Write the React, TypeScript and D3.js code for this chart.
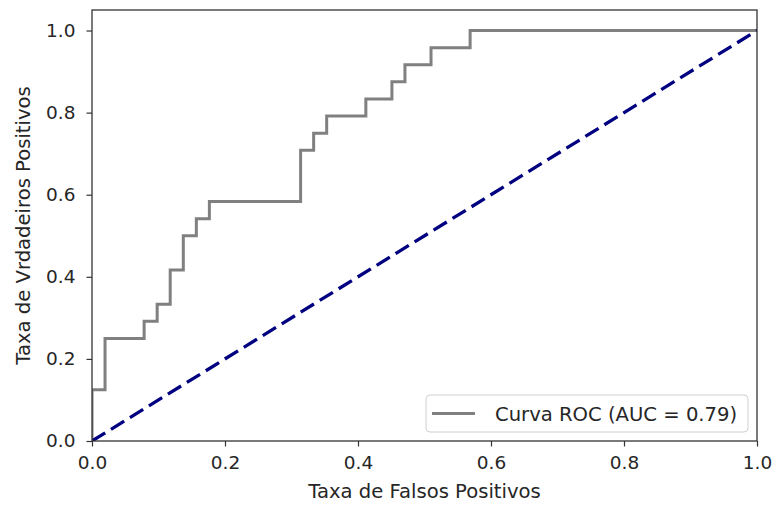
import { useEffect, useRef } from "react";
import * as d3 from "d3";

// ROC curve corner points (fpr, tpr)
const fpr = [0, 0, 0.0196, 0.0784, 0.098, 0.1176, 0.1373, 0.1569, 0.1765, 0.3137, 0.3333, 0.3529, 0.4118, 0.451, 0.4706, 0.5098, 0.5686, 1];
const tpr = [0, 0.125, 0.25, 0.2917, 0.3333, 0.4167, 0.5, 0.5417, 0.5833, 0.7083, 0.75, 0.7917, 0.8333, 0.875, 0.9167, 0.9583, 1, 1];
const diagonal = [0, 1];
const ticks = [0, 0.2, 0.4, 0.6, 0.8, 1.0];
const legendLabel = "Curva ROC (AUC = 0.79)";
const xLabel = "Taxa de Falsos Positivos";
const yLabel = "Taxa de Vrdadeiros Positivos";

const width = 773;
const height = 506;
const marginLeft = 92;
const marginRight = 16;
const marginTop = 10;
const marginBottom = 65;
const font = "DejaVu Sans, sans-serif";
const fontSize = "19.6px";
const tickFontSize = "18.5px";
const textColor = "#262626";

export default function App() {
  const xAxis = useRef<SVGGElement>(null);
  const yAxis = useRef<SVGGElement>(null);

  const xScale = d3.scaleLinear([0, 1], [marginLeft, width - marginRight]);
  const yScale = d3.scaleLinear([0, 1.05], [height - marginBottom, marginTop]);

  const roc = d3
    .line<number>()
    .x((d) => xScale(fpr[d]))
    .y((d) => yScale(tpr[d]))
    .curve(d3.curveStepAfter);

  const diag = d3
    .line<number>()
    .x((d) => xScale(d))
    .y((d) => yScale(d));

  useEffect(() => {
    const gx = d3
      .select(xAxis.current)
      .attr("transform", `translate(0,${height - marginBottom})`)
      .call(d3.axisBottom(xScale).tickValues(ticks).tickFormat(d3.format(".1f")).tickSize(5.5).tickPadding(9));
    gx.select(".domain").remove();
    gx.selectAll("line").attr("stroke", "#333").attr("stroke-width", 1.2);
    gx.selectAll("text").attr("fill", textColor).style("font", `${tickFontSize} ${font}`);

    const gy = d3
      .select(yAxis.current)
      .attr("transform", `translate(${marginLeft},0)`)
      .call(d3.axisLeft(yScale).tickValues(ticks).tickFormat(d3.format(".1f")).tickSize(5.5).tickPadding(11));
    gy.select(".domain").remove();
    gy.selectAll("line").attr("stroke", "#333").attr("stroke-width", 1.2);
    gy.selectAll("text").attr("fill", textColor).style("font", `${tickFontSize} ${font}`);
  }, []);

  const x0 = marginLeft;
  const x1 = width - marginRight;
  const y0 = height - marginBottom;
  const y1 = marginTop;

  return (
    <svg width={width} height={height} style={{ position: "absolute", left: 0, top: 0, background: "white" }}>
      <defs>
        <clipPath id="plot">
          <rect x={x0} y={y1} width={x1 - x0} height={y0 - y1} />
        </clipPath>
      </defs>
      <g clipPath="url(#plot)">
        <path
          fill="none"
          stroke="#808080"
          strokeWidth="3"
          d={roc(d3.range(fpr.length)) ?? ""}
        />
        <path
          fill="none"
          stroke="#000080"
          strokeWidth="3.3"
          strokeDasharray="15.5,6.8"
          d={diag(diagonal) ?? ""}
        />
      </g>
      <rect x={x0} y={y1} width={x1 - x0} height={y0 - y1} fill="none" stroke="#333" strokeWidth="1.3" />
      <g ref={xAxis}></g>
      <g ref={yAxis}></g>

      <g>
        <rect x={426} y={395} width={322} height={37} rx={4} fill="white" fillOpacity={0.8} stroke="#d0d0d0" strokeWidth="1" />
        <line x1={432} x2={475} y1={413.5} y2={413.5} stroke="#808080" strokeWidth="3" />
        <text x={495} y={420.5} fill={textColor} style={{ font: `${fontSize} ${font}` }}>
          {legendLabel}
        </text>
      </g>

      <text x={(x0 + x1) / 2} y={498} textAnchor="middle" fill={textColor} style={{ font: `${fontSize} ${font}` }}>
        {xLabel}
      </text>
      <text
        transform={`translate(30,${(y0 + y1) / 2}) rotate(-90)`}
        textAnchor="middle"
        fill={textColor}
        style={{ font: `${fontSize} ${font}` }}
      >
        {yLabel}
      </text>
    </svg>
  );
}
